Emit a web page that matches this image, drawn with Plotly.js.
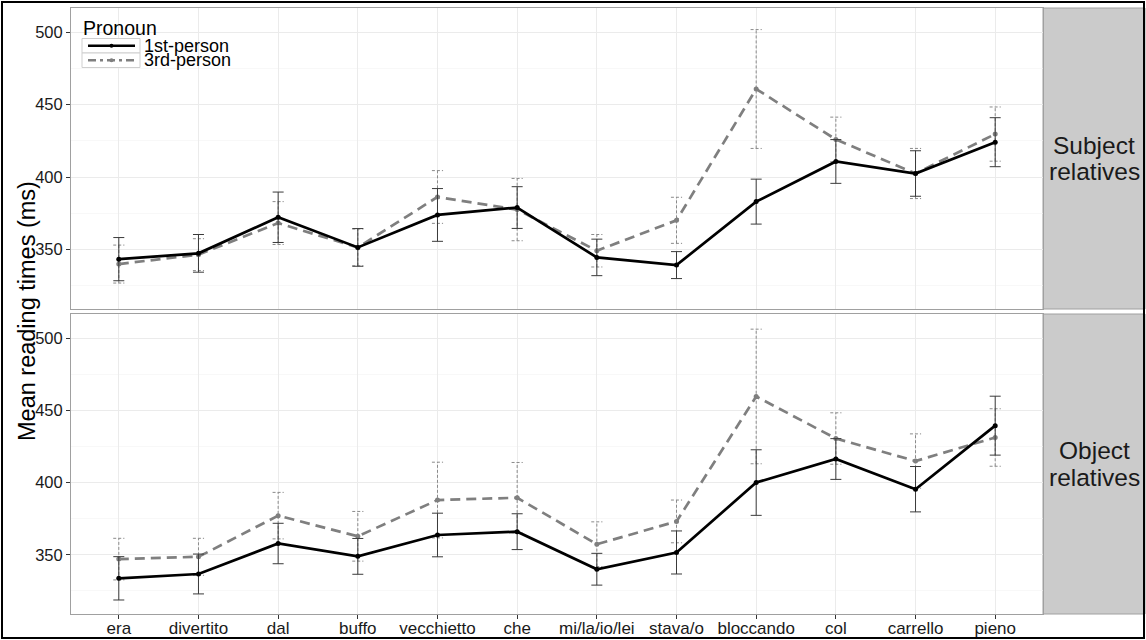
<!DOCTYPE html>
<html>
<head>
<meta charset="utf-8">
<script src="https://cdn.plot.ly/plotly-3.0.1.min.js"></script>
<style>
  html, body { margin: 0; padding: 0; background: #fff; }
  #wrap { position: relative; width: 1146px; height: 640px; }
  #chart { position: absolute; left: 0; top: 0; width: 1146px; height: 640px; }
  #frame { position: absolute; left: 1px; top: 1px; width: 1144px; height: 638px;
           border: 2px solid #000; box-sizing: border-box; pointer-events: none; }
</style>
</head>
<body>
<div id="wrap">
  <div id="chart"></div>
  <div id="frame"></div>
</div>
<script>
// Words of the sentence, in reading order
const categories = ['era', 'divertito', 'dal', 'buffo', 'vecchietto', 'che',
                    'mi/la/io/lei', 'stava/o', 'bloccando', 'col', 'carrello', 'pieno'];

// Subject relatives: mean reading times (ms) and error-bar half widths
const subjFirst    = [343.4, 347.4, 372.3, 351.5, 373.9, 379.0, 344.6, 339.3, 383.1, 410.8, 402.5, 424.1];
const subjFirstErr = [14.9, 13.0, 17.4, 13.0, 18.2, 14.4, 12.6, 9.3, 15.5, 15.1, 15.7, 16.9];
const subjThird    = [340.0, 346.5, 368.3, 351.5, 386.3, 377.6, 349.2, 370.2, 460.8, 426.0, 402.5, 429.7];
const subjThirdErr = [13.1, 11.0, 14.8, 12.7, 18.2, 21.5, 11.2, 15.9, 41.0, 15.4, 17.3, 18.7];

// Object relatives
const objFirst    = [333.7, 336.7, 357.8, 348.9, 363.7, 366.0, 340.0, 351.6, 400.0, 416.3, 395.4, 439.4];
const objFirstErr = [15.0, 13.8, 14.0, 12.4, 15.1, 12.4, 11.0, 14.9, 22.7, 14.1, 15.7, 20.4];
const objThird    = [347.0, 348.6, 377.1, 362.8, 387.9, 389.5, 357.3, 373.1, 459.6, 430.5, 414.9, 431.2];
const objThirdErr = [14.4, 12.8, 16.1, 17.2, 26.2, 24.4, 15.5, 14.8, 46.6, 17.8, 18.8, 19.9];

const panelNames = [['Subject', 'relatives'], ['Object', 'relatives']];
const seriesNames = ['1st-person', '3rd-person'];
const yTicks = [350, 400, 450, 500];

const FONT = 'Liberation Sans, Arial, sans-serif';
const idx = categories.map((_, i) => i);
const CAP = 0.07; // half width of an error-bar cap, in category units

// Dotted error bars (vertical stem + two caps) built from means and half widths
function dottedBars(mean, err) {
  const xs = [], ys = [];
  mean.forEach((m, i) => {
    const lo = m - err[i], hi = m + err[i];
    xs.push(i, i, null, i - CAP, i + CAP, null, i - CAP, i + CAP, null);
    ys.push(lo, hi, null, hi, hi, null, lo, lo, null);
  });
  return { x: xs, y: ys };
}

function panelTraces(first, firstErr, third, thirdErr, xa, ya) {
  const eb = dottedBars(third, thirdErr);
  return [
    { x: eb.x, y: eb.y, xaxis: xa, yaxis: ya, mode: 'lines', showlegend: false,
      line: { color: '#8a8a8a', width: 1, dash: '3px,2px' }, hoverinfo: 'skip' },
    { x: idx, y: third, xaxis: xa, yaxis: ya, mode: 'lines+markers', name: seriesNames[1],
      showlegend: false,
      line: { color: '#7f7f7f', width: 2.7, dash: '10px,6px' },
      marker: { color: '#7f7f7f', size: 5 } },
    { x: idx, y: first, xaxis: xa, yaxis: ya, mode: 'lines+markers', name: seriesNames[0],
      showlegend: false,
      line: { color: '#000', width: 2.7 },
      marker: { color: '#000', size: 5 },
      error_y: { type: 'data', array: firstErr, visible: true, color: '#3a3a3a', thickness: 1, width: 5.5 } }
  ];
}

const traces = [
  ...panelTraces(subjFirst, subjFirstErr, subjThird, subjThirdErr, 'x2', 'y2'),
  ...panelTraces(objFirst, objFirstErr, objThird, objThirdErr, 'x', 'y')
];

// Geometry (pixels) of the plot area
const W = 1146, H = 640;
const M = { l: 71, r: 103, t: 8, b: 26 };
const PW = W - M.l - M.r, PH = H - M.t - M.b;
const px = v => (v - M.l) / PW;            // pixel x -> paper x
const py = v => (H - M.b - v) / PH;        // pixel y -> paper y

const topDomain = [py(309), 1];
const botDomain = [0, py(314)];
const yRange = [309, 516.7];
const xRange = [-0.6, 11.6];

const yAxisBase = {
  range: yRange, tickvals: yTicks, ticktext: yTicks.map(String),
  ticks: 'outside', ticklen: 4, tickcolor: '#333', tickwidth: 1,
  tickfont: { family: FONT, size: 16.5, color: '#1a1a1a' },
  showgrid: true, gridcolor: '#ebebeb', gridwidth: 1,
  minor: { tickvals: [325, 375, 425, 475], showgrid: true, gridcolor: '#f4f4f4', gridwidth: 0.6, ticks: '' },
  showline: true, mirror: true, linecolor: '#a0a0a0', linewidth: 1,
  zeroline: false, fixedrange: true
};
const xAxisBase = {
  range: xRange, tickvals: idx, ticktext: categories,
  showgrid: true, gridcolor: '#ebebeb', gridwidth: 1,
  showline: true, mirror: true, linecolor: '#a0a0a0', linewidth: 1,
  zeroline: false, fixedrange: true
};

const shapes = [];
const annotations = [];

// Facet strips on the right
[[topDomain, panelNames[0]], [botDomain, panelNames[1]]].forEach(([dom, lines]) => {
  shapes.push({ type: 'rect', xref: 'paper', yref: 'paper', x0: 1, x1: px(1145), y0: dom[0], y1: dom[1],
                fillcolor: '#cbcbcb', line: { color: '#a0a0a0', width: 1 }, layer: 'below' });
  const mid = (dom[0] + dom[1]) / 2;
  const step = 13.3 / PH;
  lines.forEach((t, k) => {
    annotations.push({ xref: 'paper', yref: 'paper', x: px(1094), y: mid + (k === 0 ? step : -step),
                       text: t, showarrow: false, xanchor: 'center', yanchor: 'middle',
                       font: { family: FONT, size: 24.5, color: '#1a1a1a' } });
  });
});

// Y axis title
annotations.push({ xref: 'paper', yref: 'paper', x: px(27), y: py(311), text: 'Mean reading times (ms)',
                   textangle: -90, showarrow: false, xanchor: 'center', yanchor: 'middle',
                   font: { family: FONT, size: 23.5, color: '#000' } });

// Legend drawn inside the top panel
annotations.push({ xref: 'paper', yref: 'paper', x: px(81), y: py(28), text: 'Pronoun', showarrow: false,
                   xanchor: 'left', yanchor: 'middle', font: { family: FONT, size: 19.5, color: '#000' } });
const keyRows = [[38.5, 53], [53, 67.5]];
keyRows.forEach(([t, b], k) => {
  shapes.push({ type: 'rect', xref: 'paper', yref: 'paper', x0: px(82), x1: px(140), y0: py(b), y1: py(t),
                fillcolor: '#fff', line: { color: '#cfcfcf', width: 1 } });
  const yMid = py((t + b) / 2);
  shapes.push({ type: 'line', xref: 'paper', yref: 'paper', x0: px(88), x1: px(135), y0: yMid, y1: yMid,
                line: k === 0 ? { color: '#000', width: 2.7 } : { color: '#7f7f7f', width: 2.7, dash: '8px,4px,3px,4px' } });
  shapes.push({ type: 'circle', xref: 'paper', yref: 'paper',
                x0: px(109.5), x1: px(113.5), y0: py((t + b) / 2 + 2), y1: py((t + b) / 2 - 2),
                fillcolor: k === 0 ? '#000' : '#7f7f7f', line: { width: 0 } });
  annotations.push({ xref: 'paper', yref: 'paper', x: px(142), y: yMid, text: seriesNames[k], showarrow: false,
                     xanchor: 'left', yanchor: 'middle', font: { family: FONT, size: 18, color: '#000' } });
});

const layout = {
  width: W, height: H, margin: M,
  paper_bgcolor: '#fff', plot_bgcolor: '#fff',
  showlegend: false,
  xaxis: Object.assign({}, xAxisBase, { anchor: 'y', ticks: 'outside', ticklen: 4, tickcolor: '#333',
           ticklabelstandoff: -5,
           tickfont: { family: FONT, size: 17, color: '#1a1a1a' } }),
  xaxis2: Object.assign({}, xAxisBase, { anchor: 'y2', matches: 'x', showticklabels: false, ticks: '' }),
  yaxis: Object.assign({}, yAxisBase, { domain: botDomain, anchor: 'x' }),
  yaxis2: Object.assign({}, yAxisBase, { domain: topDomain, anchor: 'x2' }),
  shapes: shapes,
  annotations: annotations
};

Plotly.newPlot('chart', traces, layout, { staticPlot: true, displayModeBar: false });
</script>
</body>
</html>
